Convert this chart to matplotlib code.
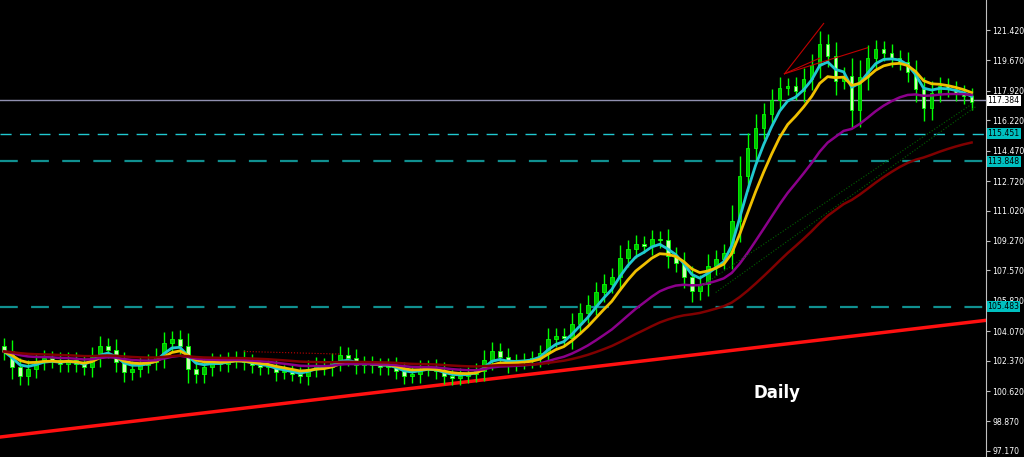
import matplotlib
matplotlib.use("Agg")
import matplotlib.pyplot as plt
import numpy as np

closes = [102.9,102.0,101.5,101.9,102.3,102.5,102.4,102.2,102.4,102.2,
          102.0,102.6,103.2,103.0,102.3,101.7,101.9,102.1,102.3,102.6,
          103.4,103.6,103.2,101.9,101.6,102.0,102.3,102.2,102.4,102.5,
          102.3,102.1,102.0,102.0,101.7,101.7,101.6,101.5,101.9,102.1,
          102.0,102.3,102.7,102.5,102.1,102.2,102.1,102.0,102.1,101.8,
          101.5,101.6,101.9,102.0,101.8,101.5,101.4,101.5,101.6,101.8,
          102.4,102.9,102.6,102.2,102.3,102.4,102.5,102.8,103.6,103.8,
          103.7,104.5,105.1,105.6,106.3,106.8,107.2,108.3,108.8,109.1,
          109.0,109.4,109.3,108.4,108.0,107.2,106.4,106.8,107.8,108.2,
          108.6,110.4,113.0,114.6,115.8,116.6,117.4,118.1,118.2,117.9,
          118.6,119.4,120.6,119.9,118.5,118.8,116.8,118.7,119.8,120.3,
          120.1,119.8,119.6,119.0,118.0,116.9,117.8,118.2,118.0,117.8,
          117.6,117.3]
tick_vals = [121.420,119.670,117.920,116.220,114.470,112.720,111.020,109.270,
             107.570,105.820,104.070,102.370,100.620,98.870,97.170]
hlines = [117.384, 115.451, 113.848, 105.483]
trend_x = [-0.5, 122.9]
trend_y = [97.97, 104.7]
ema_periods = [4, 7, 20, 45]
ema_colors = ['#20c8d0', '#f0c000', '#8b008b', '#800000']

def ema(v, n):
    a = 2/(n+1); out=[v[0]]
    for x in v[1:]:
        out.append(out[-1]+a*(x-out[-1]))
    return np.array(out)

c = np.array(closes)
o = np.concatenate([[c[0]+0.3], c[:-1]])
idx = np.arange(len(c))

fig = plt.figure(figsize=(10.24,4.57), dpi=100, facecolor='black')
ax = fig.add_axes([0, 0, 986/1024, 1], facecolor='black')
ax.set_xlim(-0.5, 122.8)
ax.set_ylim(96.82, 123.15)

ax.plot(trend_x, trend_y, color='#ff1010', lw=2.5, zorder=2)
ax.axhline(hlines[0], color='#9090b0', lw=1, zorder=1)
ax.axhline(hlines[1], color='#20c8d0', lw=1, ls=(0,(8,6)), zorder=1)
ax.axhline(hlines[2], color='#109090', lw=1.6, ls=(0,(8,6)), zorder=1)
ax.axhline(hlines[3], color='#109090', lw=1.6, ls=(0,(8,6)), zorder=1)

for i in idx:
    hi = max(o[i], c[i]) + 0.4 + 0.3*abs(c[i]-o[i])
    lo = min(o[i], c[i]) - 0.4 - 0.3*abs(c[i]-o[i])
    bull = c[i] >= o[i]
    col = '#00c000' if bull else '#c8ffb0'
    ax.vlines(i, lo, hi, color='#00ff00', lw=1, zorder=3)
    b = min(o[i], c[i]); h = max(abs(c[i]-o[i]), 0.08)
    ax.bar(i, h, bottom=b, width=0.45, color=col, edgecolor='#00ff00', lw=0.6, zorder=4)

for n, col in zip(ema_periods, ema_colors):
    ax.plot(idx, ema(c, n), color=col, lw=2 if n <= 7 else 1.8, zorder=5)

ax.plot([97.6, 102.5], [118.9, 121.8], color='#c00000', lw=0.8, zorder=6)
ax.plot([97.6, 108.0], [118.9, 120.4], color='#c00000', lw=0.8, zorder=6)
ax.plot([97.6, 102.0], [118.9, 119.8], color='#c00000', lw=0.8, zorder=6)
ax.plot([30.0, 42.0], [102.9, 102.75], color='#c00000', lw=0.8, ls=':', zorder=6)
ax.plot([87.0, 121.5], [106.6, 117.3], color='#006000', lw=0.8, ls=':', zorder=6)
ax.plot([89.0, 121.5], [106.3, 117.0], color='#006000', lw=0.8, ls=':', zorder=6)

ax.text(96.7, 100.5, 'Daily', color='white', fontsize=12, fontweight='bold', ha='center', va='center')

ax.set_xticks([])
ax.yaxis.tick_right()
ax.set_yticks(tick_vals)
ax.set_yticklabels([f'{v:.3f}' for v in tick_vals])
ax.tick_params(axis='y', colors='#c0c0c0', labelcolor='white', labelsize=5.6, length=3, pad=1.5)
for s in ['top', 'left', 'bottom']:
    ax.spines[s].set_visible(False)
ax.spines['right'].set_color('#c0c0c0')

for v, bg, fg in [(hlines[0], 'white', 'black'), (hlines[1], '#00c0c0', 'black'),
                  (hlines[2], '#00c0c0', 'black'), (hlines[3], '#00c0c0', 'black')]:
    ax.text(1.0015, v, f'{v:.3f}', transform=ax.get_yaxis_transform(), color=fg, fontsize=5.6,
            va='center', ha='left', bbox=dict(boxstyle='square,pad=0.12', fc=bg, ec='none'), clip_on=False)

fig.savefig('out.png', dpi=100, facecolor='black')
